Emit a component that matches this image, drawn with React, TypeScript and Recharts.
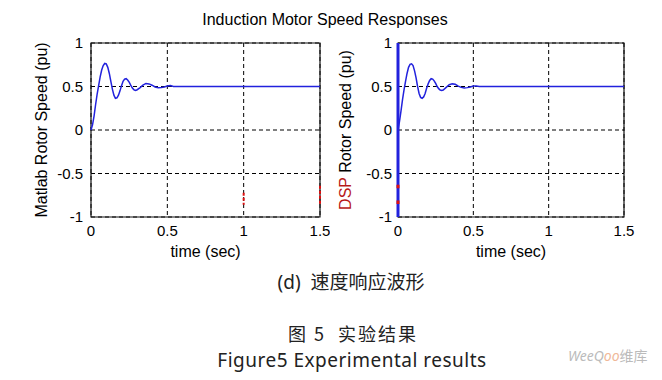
import { LineChart, Line, XAxis, YAxis, CartesianGrid, ReferenceArea } from 'recharts';

// sample times (s) and rotor speed (pu)
const timeS = [0, 0.01, 0.02, 0.03, 0.04, 0.05, 0.06, 0.07, 0.08, 0.09, 0.1, 0.11, 0.12, 0.13, 0.14, 0.15, 0.16, 0.17, 0.18, 0.19, 0.2, 0.21, 0.22, 0.23, 0.24, 0.25, 0.26, 0.27, 0.28, 0.29, 0.3, 0.32, 0.34, 0.36, 0.38, 0.4, 0.42, 0.44, 0.46, 0.48, 0.5, 0.52, 0.54, 0.56, 1.0, 1.5];
const matlabSpeed = [0, 0.06, 0.16, 0.29, 0.41, 0.51, 0.61, 0.69, 0.74, 0.765, 0.76, 0.72, 0.65, 0.56, 0.47, 0.4, 0.365, 0.37, 0.4, 0.45, 0.51, 0.56, 0.585, 0.59, 0.575, 0.55, 0.515, 0.485, 0.465, 0.455, 0.46, 0.485, 0.515, 0.535, 0.53, 0.515, 0.495, 0.485, 0.488, 0.495, 0.505, 0.51, 0.5, 0.5, 0.5, 0.5];
const dspSpeed = [0, 0.1, 0.22, 0.35, 0.46, 0.56, 0.65, 0.72, 0.755, 0.76, 0.74, 0.68, 0.6, 0.5, 0.42, 0.375, 0.365, 0.38, 0.42, 0.48, 0.53, 0.57, 0.59, 0.585, 0.565, 0.535, 0.5, 0.475, 0.46, 0.455, 0.46, 0.49, 0.52, 0.53, 0.525, 0.505, 0.49, 0.483, 0.487, 0.495, 0.505, 0.505, 0.5, 0.5, 0.5, 0.5];

const xTicks = [0, 0.5, 1, 1.5];
const yTicks = [-1, -0.5, 0, 0.5, 1];

// odd bits visible in the plots
const dspStartSpike = [{ t: 0, v: -1 }, { t: 0, v: 1 }];
const matlabRedMarks = [
  { t: 1, v: -0.72 }, { t: 1, v: -0.86 }, { t: 1, v: null },
  { t: 1.5, v: -0.64 }, { t: 1.5, v: -0.86 },
];
const dspRedMarks = [
  { t: 0, v: -0.63 }, { t: 0, v: -0.67 }, { t: 0, v: null },
  { t: 0, v: -0.81 }, { t: 0, v: -0.85 },
];

const matlabData = timeS.map((t, i) => ({ t, v: matlabSpeed[i] }));
const dspData = timeS.map((t, i) => ({ t, v: dspSpeed[i] }));

const blue = '#2222dd';
const font = '"Liberation Sans", Arial, sans-serif';

const YLabel = ({ viewBox, dx, parts }: any) => {
  const x = viewBox.x + dx;
  const y = viewBox.y + viewBox.height / 2;
  return (
    <text
      x={x}
      y={y}
      transform={`rotate(-90 ${x} ${y})`}
      textAnchor="middle"
      dominantBaseline="central"
      fontSize={16}
      fontFamily={font}
    >
      {parts.map((p: any, i: number) => (
        <tspan key={i} fill={p.color}>{p.text}</tspan>
      ))}
    </text>
  );
};

function Panel({ data, width, left, right, labelDx, tickMargin, parts, extra }: any) {
  return (
    <LineChart width={width} height={270} data={data} margin={{ top: 43, right, bottom: 13, left }}>
      <CartesianGrid stroke="#000" strokeDasharray="4 3" />
      <XAxis
        dataKey="t"
        type="number"
        domain={[0, 1.5]}
        ticks={xTicks}
        height={40}
        axisLine={false}
        tickLine={false}
        tick={{ fill: '#000', fontSize: 15, fontFamily: font }}
        label={{ value: 'time (sec)', position: 'insideBottom', offset: 0, fill: '#000', fontSize: 16, fontFamily: font }}
      />
      <YAxis
        type="number"
        domain={[-1, 1]}
        ticks={yTicks}
        width={50}
        axisLine={false}
        tickLine={false}
        tickMargin={tickMargin}
        tick={{ fill: '#000', fontSize: 15, fontFamily: font }}
        label={{ content: (p: any) => <YLabel viewBox={p.viewBox} dx={labelDx} parts={parts} /> }}
      />
      <ReferenceArea x1={0} x2={1.5} y1={-1} y2={1} fill="none" stroke="#111" strokeWidth={1.2} />
      {extra}
      <Line dataKey="v" type="linear" stroke={blue} strokeWidth={1.5} dot={false} isAnimationActive={false} />
    </LineChart>
  );
}

export default function App() {
  return (
    <div style={{ position: 'absolute', left: 0, top: 0, width: 662, height: 380, background: '#fff', fontFamily: font }}>
      <div style={{ position: 'absolute', left: 0, top: 10, width: 650, textAlign: 'center', fontSize: 16, lineHeight: '20px' }}>
        Induction Motor Speed Responses
      </div>
      <div style={{ position: 'absolute', left: 0, top: 0 }}>
        <Panel
          data={matlabData}
          width={330}
          left={41}
          right={10}
          labelDx={0}
          tickMargin={2}
          parts={[{ text: 'Matlab Rotor Speed (pu)', color: '#000' }]}
          extra={
            <Line data={matlabRedMarks} dataKey="v" stroke="#e01010" strokeWidth={2} strokeDasharray="3 2" dot={false} connectNulls={false} isAnimationActive={false} />
          }
        />
      </div>
      <div style={{ position: 'absolute', left: 330, top: 0 }}>
        <Panel
          data={dspData}
          width={332}
          left={18}
          right={38}
          labelDx={-3}
          tickMargin={0}
          parts={[{ text: 'DSP', color: '#b81818' }, { text: ' Rotor Speed (pu)', color: '#000' }]}
          extra={[
            <Line key="spike" data={dspStartSpike} dataKey="v" stroke={blue} strokeWidth={3} dot={false} isAnimationActive={false} />,
            <Line key="red" data={dspRedMarks} dataKey="v" stroke="#e01010" strokeWidth={3} dot={false} connectNulls={false} isAnimationActive={false} />,
          ]}
        />
      </div>
      <div style={{ position: 'absolute', left: 0, top: 271, width: 702, textAlign: 'center', fontSize: 19, lineHeight: '22px', color: '#222', fontFamily: '"Noto Sans", "Noto Sans CJK SC", sans-serif' }}>
        (d)&nbsp; 速度响应波形
      </div>
      <div style={{ position: 'absolute', left: 0, top: 321, width: 706, textAlign: 'center', fontSize: 18, lineHeight: '24px', letterSpacing: 2, color: '#222', fontFamily: '"Noto Sans CJK SC", sans-serif' }}>
        图 5&nbsp; 实验结果
      </div>
      <div style={{ position: 'absolute', left: 0, top: 350, width: 704, textAlign: 'center', fontSize: 19, lineHeight: '20px', letterSpacing: 0.5, color: '#222', fontFamily: '"Noto Sans", sans-serif' }}>
        Figure5 Experimental results
      </div>
      <div style={{ position: 'absolute', left: 568, top: 347, fontSize: 14, lineHeight: '18px', color: '#bbb', fontStyle: 'italic', fontFamily: '"Noto Sans", "Noto Sans CJK SC", sans-serif' }}>
        WeeQ<span style={{ color: '#f0b898' }}>oo</span><span style={{ fontStyle: 'normal' }}>维库</span>
      </div>
    </div>
  );
}
